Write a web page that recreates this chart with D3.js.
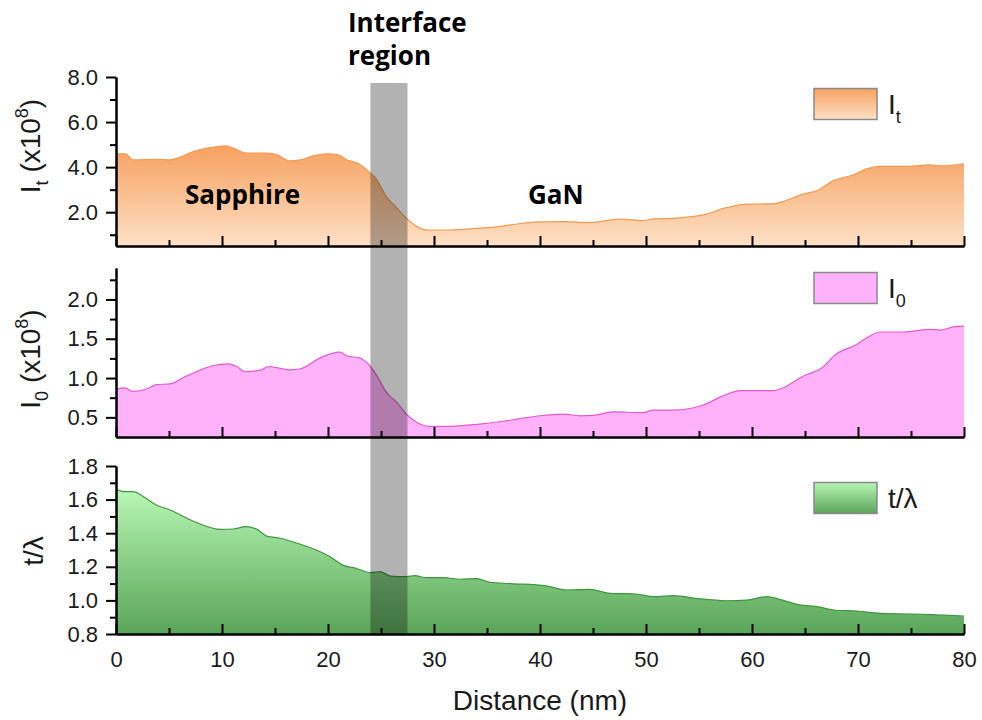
<!DOCTYPE html>
<html>
<head>
<meta charset="utf-8">
<script src="https://cdn.jsdelivr.net/npm/d3@7"></script>
<style>
  html, body { margin: 0; padding: 0; background: #fff; }
  svg { display: block; }
</style>
</head>
<body>
<svg id="chart" width="982" height="720"></svg>
<script>
// Intensity profiles across the sapphire / GaN interface.

// [distance nm, value]
const IT = [
  [0, 4.59], [0.9, 4.59], [1.6, 4.32], [3.8, 4.35], [5.1, 4.32], [6.0, 4.44], [7.3, 4.69],
  [8.6, 4.84], [10.4, 4.95], [11.1, 4.84], [12.3, 4.62], [14.2, 4.62], [15.2, 4.55],
  [16.4, 4.28], [17.4, 4.32], [18.6, 4.50], [19.9, 4.59], [21.0, 4.55], [21.8, 4.32],
  [22.9, 4.15], [24.0, 3.73], [24.6, 3.44], [25.5, 2.69], [26.5, 2.18], [27.4, 1.73],
  [28.4, 1.36], [29.3, 1.21], [31.5, 1.21], [34.3, 1.29], [35.6, 1.33], [38.4, 1.51],
  [40.0, 1.57], [42.2, 1.58], [44.7, 1.54], [47.5, 1.69], [49.7, 1.63], [50.7, 1.70],
  [52.6, 1.73], [55.4, 1.88], [57.6, 2.20], [59.5, 2.36], [62.0, 2.37], [62.9, 2.47],
  [64.8, 2.80], [66.1, 2.95], [67.7, 3.40], [69.6, 3.66], [70.8, 3.92], [72.1, 4.03],
  [74.6, 4.03], [76.8, 4.10], [77.7, 4.06], [80, 4.15]
];
const I0 = [
  [0, 0.86], [0.85, 0.875], [1.6, 0.83], [2.9, 0.86], [3.8, 0.917], [5.1, 0.925], [6.4, 1.01],
  [7.9, 1.10], [9.2, 1.16], [10.6, 1.18], [11.4, 1.147], [12.2, 1.08], [13.6, 1.10],
  [14.4, 1.147], [16.4, 1.105], [17.4, 1.118], [19.3, 1.26], [21.1, 1.33], [21.9, 1.275],
  [22.9, 1.26], [24.0, 1.147], [24.6, 1.03], [25.5, 0.82], [26.5, 0.69], [27.4, 0.54],
  [28.4, 0.435], [29.6, 0.384], [31.5, 0.384], [33.1, 0.40], [34.3, 0.414], [36.2, 0.444],
  [38.4, 0.49], [40.0, 0.52], [42.2, 0.54], [43.8, 0.52], [45.0, 0.525], [46.9, 0.57],
  [49.7, 0.56], [50.7, 0.593], [52.6, 0.593], [55.4, 0.657], [57.3, 0.776], [58.9, 0.84],
  [62.0, 0.84], [63.0, 0.88], [64.9, 1.03], [66.5, 1.12], [67.9, 1.30], [69.9, 1.43],
  [70.8, 1.51], [72.1, 1.586], [74.3, 1.586], [76.8, 1.62], [77.7, 1.61], [79.0, 1.65], [80, 1.66]
];
const TL = [
  [0, 1.661], [0.85, 1.647], [1.6, 1.647], [2.6, 1.617], [3.8, 1.568], [5.1, 1.538],
  [6.7, 1.489], [8.2, 1.449], [9.8, 1.423], [11.1, 1.425], [12.2, 1.439], [13.3, 1.423],
  [14.2, 1.383], [15.5, 1.37], [17.4, 1.334], [18.9, 1.30], [20.2, 1.26], [21.4, 1.21],
  [22.7, 1.19], [24.0, 1.165], [24.9, 1.171], [25.9, 1.145], [27.4, 1.141], [28.2, 1.147],
  [29.3, 1.135], [30.9, 1.135], [32.5, 1.126], [34.0, 1.13], [35.3, 1.108], [37.2, 1.10],
  [40.6, 1.086], [42.5, 1.062], [44.7, 1.066], [46.6, 1.042], [49.1, 1.038], [50.7, 1.022],
  [52.6, 1.028], [54.7, 1.012], [57.6, 0.998], [59.5, 1.002], [61.4, 1.022], [62.6, 1.006],
  [64.5, 0.973], [66.1, 0.963], [67.7, 0.943], [69.9, 0.937], [72.1, 0.923], [75.2, 0.919],
  [77.7, 0.913], [80, 0.907]
];

const X_TICKS = [0, 10, 20, 30, 40, 50, 60, 70, 80];
const X_MINOR = [5, 15, 25, 35, 45, 55, 65, 75];
const IT_TICKS = [2, 4, 6, 8];
const IT_MINOR = [1, 3, 5, 7];
const I0_TICKS = [0.5, 1.0, 1.5, 2.0];
const I0_MINOR = [0.75, 1.25, 1.75, 2.25];
const TL_TICKS = [0.8, 1.0, 1.2, 1.4, 1.6, 1.8];
const TL_MINOR = [0.9, 1.1, 1.3, 1.5, 1.7];
const INTERFACE = [24, 27.5];

const INK = '#1a1a1a';
const SANS = '"Liberation Sans", Arial, sans-serif';
const BOLD = '"Open Sans", sans-serif';

const svg = d3.select('#chart');
const defs = svg.append('defs');

function vgrad(id, top, bottom) {
  const g = defs.append('linearGradient').attr('id', id)
    .attr('x1', 0).attr('x2', 0).attr('y1', 0).attr('y2', 1);
  g.append('stop').attr('offset', '0%').attr('stop-color', top);
  g.append('stop').attr('offset', '100%').attr('stop-color', bottom);
}
vgrad('g-orange', '#f7a160', '#fde0c6');
vgrad('g-green', '#b8f6b4', '#5aa559');

const x = d3.scaleLinear().domain([0, 80]).range([116, 964]);

const panels = [
  { key: 'it', data: IT, domain: [0.5, 8.0], range: [246, 77], ticks: IT_TICKS, minor: IT_MINOR,
    fill: 'url(#g-orange)', stroke: '#f39a52', legendY: 88.5, titleY: 146, sub: 't' },
  { key: 'i0', data: I0, domain: [0.25, 2.4], range: [437, 268], ticks: I0_TICKS, minor: I0_MINOR,
    fill: '#ffb1f9', stroke: '#e25ccf', legendY: 272.5, titleY: 359, sub: '0' },
  { key: 'tl', data: TL, domain: [0.8, 1.8], range: [634, 466], ticks: TL_TICKS, minor: TL_MINOR,
    fill: 'url(#g-green)', stroke: '#3f963e', legendY: 482.5, titleY: 551, sub: null }
];

const styleAxis = g => {
  g.selectAll('line, path').attr('stroke', '#000').attr('stroke-width', 2);
  g.selectAll('text').attr('fill', INK).style('font-family', SANS).style('font-size', '22px');
};

panels.forEach(p => {
  const y = d3.scaleLinear().domain(p.domain).range(p.range);
  p.y = y;
  const area = d3.area().curve(d3.curveMonotoneX)
    .x(d => x(d[0])).y0(p.range[0]).y1(d => y(d[1]));
  const line = d3.line().curve(d3.curveMonotoneX).x(d => x(d[0])).y(d => y(d[1]));
  svg.append('path').datum(p.data).attr('d', area).attr('fill', p.fill);
  svg.append('path').datum(p.data).attr('d', line)
    .attr('fill', 'none').attr('stroke', p.stroke).attr('stroke-width', 1.2);
});

// interface region band, spans all three panels
svg.append('rect')
  .attr('x', x(INTERFACE[0])).attr('width', x(INTERFACE[1]) - x(INTERFACE[0]))
  .attr('y', 83).attr('height', 634 - 83)
  .attr('fill', '#000').attr('fill-opacity', 0.3);

panels.forEach((p, i) => {
  const last = i === panels.length - 1;
  const bottom = p.range[0];

  svg.append('g').attr('transform', `translate(0,${bottom})`)
    .call(d3.axisBottom(x).tickValues(X_TICKS).tickSize(-10).tickSizeOuter(0).tickPadding(17)
      .tickFormat(last ? d3.format('d') : ''))
    .call(styleAxis);
  svg.append('g').attr('transform', `translate(0,${bottom})`)
    .call(d3.axisBottom(x).tickValues(X_MINOR).tickSize(-6).tickSizeOuter(0).tickFormat(''))
    .call(styleAxis);

  svg.append('g').attr('transform', 'translate(116,0)')
    .call(d3.axisLeft(p.y).tickValues(p.ticks).tickSize(10).tickSizeOuter(0).tickPadding(8)
      .tickFormat(d3.format('.1f')))
    .call(styleAxis);
  svg.append('g').attr('transform', 'translate(116,0)')
    .call(d3.axisLeft(p.y).tickValues(p.minor).tickSize(6).tickSizeOuter(0).tickFormat(''))
    .call(styleAxis);

  // y title
  const t = svg.append('text')
    .attr('transform', `translate(${p.sub ? 40 : 43},${p.titleY}) rotate(-90)`)
    .attr('text-anchor', 'middle').attr('fill', INK)
    .style('font-family', SANS).style('font-size', '28px');
  if (p.sub) {
    t.append('tspan').text('I');
    t.append('tspan').attr('dy', 8).style('font-size', '18px').text(p.sub);
    t.append('tspan').attr('dy', -8).text(' (x10');
    t.append('tspan').attr('dy', -12).style('font-size', '18px').text('8');
    t.append('tspan').attr('dy', 12).text(')');
  } else {
    t.text('t/λ');
  }

  // legend
  svg.append('rect').attr('x', 814).attr('y', p.legendY).attr('width', 63).attr('height', 31)
    .attr('fill', p.fill).attr('stroke', '#8a8a8a').attr('stroke-width', 1.5);
  const lt = svg.append('text').attr('x', 888).attr('y', p.legendY + 25).attr('fill', INK)
    .style('font-family', SANS).style('font-size', '28px');
  if (p.sub) {
    lt.append('tspan').text('I');
    lt.append('tspan').attr('dy', 9).style('font-size', '18px').text(p.sub);
  } else {
    lt.text('t/λ');
  }
});

svg.append('text').attr('x', x(40)).attr('y', 710).attr('text-anchor', 'middle')
  .attr('fill', INK).style('font-family', SANS).style('font-size', '28px')
  .text('Distance (nm)');

const labels = [
  { text: 'Interface', x: 348, y: 32 },
  { text: 'region', x: 348, y: 65 },
  { text: 'Sapphire', x: 185, y: 204 },
  { text: 'GaN', x: 528, y: 204 }
];
svg.selectAll('text.lab').data(labels).join('text').attr('class', 'lab')
  .attr('x', d => d.x).attr('y', d => d.y).attr('fill', '#000')
  .style('font-family', BOLD).style('font-weight', 700).style('font-size', '26px')
  .text(d => d.text);
</script>
</body>
</html>
